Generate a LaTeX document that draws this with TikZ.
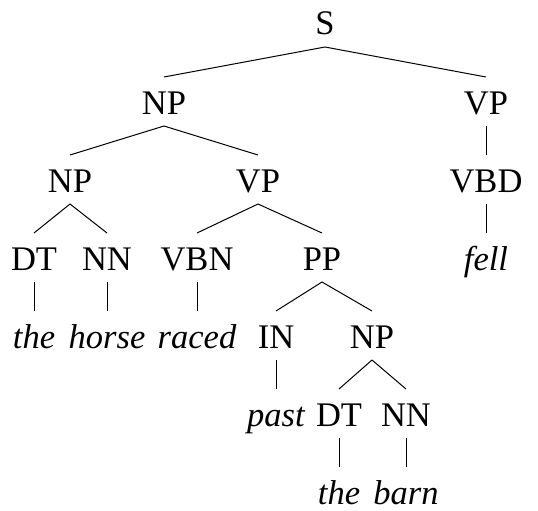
\documentclass[tikz,border=0pt]{standalone}
\usepackage{fontspec}
\setmainfont{Liberation Serif}
\begin{document}
\begin{tikzpicture}[x=1pt,y=-1pt,
  lab/.style={anchor=base,inner sep=0pt,outer sep=0pt,text height=37pt,text depth=12pt,font=\fontsize{34.5}{40}\selectfont},
  word/.style={lab,font=\fontsize{34.5}{40}\selectfont\itshape},
  br/.style={line width=1pt}]
\useasboundingbox (0,0) rectangle (538,511);
% row 1
\node[lab] (S) at (325,35) {S};
% row 2
\node[lab] (NP1) at (164,114) {NP};
\node[lab] (VP1) at (486,114) {VP};
% row 3
\node[lab] (NP2) at (70,192) {NP};
\node[lab] (VP2) at (258,192) {VP};
\node[lab] (VBD) at (486,192) {VBD};
% row 4
\node[lab] (DT1) at (34,270) {DT};
\node[lab] (NN1) at (107,270) {NN};
\node[lab] (VBN) at (197,270) {VBN};
\node[lab] (PP) at (322,270) {PP};
\node[word] (fell) at (486,270) {fell};
% row 5
\node[word] (the1) at (34,348) {the};
\node[word] (horse) at (107,348) {horse};
\node[word] (raced) at (197,348) {raced};
\node[lab] (IN) at (276,348) {IN};
\node[lab] (NP3) at (372,348) {NP};
% row 6
\node[word] (past) at (276,426) {past};
\node[lab] (DT2) at (339,426) {DT};
\node[lab] (NN2) at (406,426) {NN};
% row 7
\node[word] (the2) at (339,504) {the};
\node[word] (barn) at (406,504) {barn};
% branches
\draw[br] (S.south) -- (NP1.north);
\draw[br] (S.south) -- (VP1.north);
\draw[br] (NP1.south) -- (NP2.north);
\draw[br] (NP1.south) -- (VP2.north);
\draw[br] (VP1.south) -- (VBD.north);
\draw[br] (NP2.south) -- (DT1.north);
\draw[br] (NP2.south) -- (NN1.north);
\draw[br] (VP2.south) -- (VBN.north);
\draw[br] (VP2.south) -- (PP.north);
\draw[br] (VBD.south) -- (fell.north);
\draw[br] (DT1.south) -- (the1.north);
\draw[br] (NN1.south) -- (horse.north);
\draw[br] (VBN.south) -- (raced.north);
\draw[br] (PP.south) -- (IN.north);
\draw[br] (PP.south) -- (NP3.north);
\draw[br] (IN.south) -- (past.north);
\draw[br] (NP3.south) -- (DT2.north);
\draw[br] (NP3.south) -- (NN2.north);
\draw[br] (DT2.south) -- (the2.north);
\draw[br] (NN2.south) -- (barn.north);
\end{tikzpicture}
\end{document}
